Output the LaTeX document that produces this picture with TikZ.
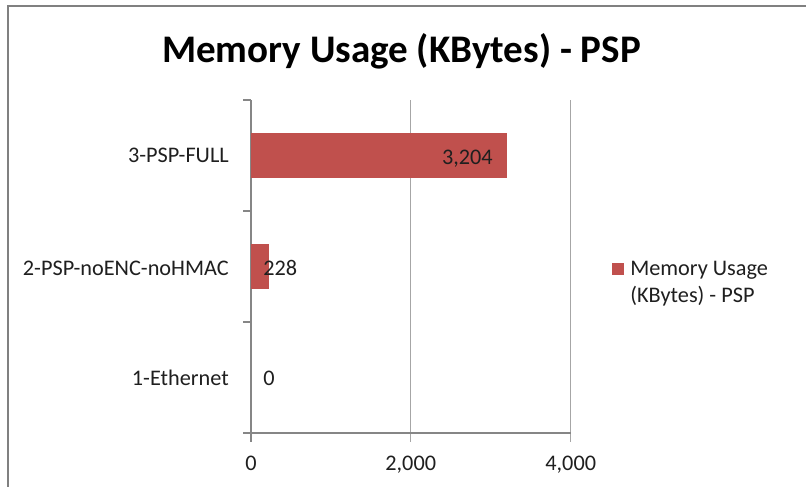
\documentclass[tikz,border=0pt]{standalone}
\usepackage{fontspec}
\setmainfont{Carlito}
\definecolor{barred}{HTML}{C0504D}
\definecolor{gridgray}{HTML}{A6A6A6}
\definecolor{axisgray}{HTML}{868686}
\definecolor{framegray}{HTML}{808080}
\definecolor{txt}{HTML}{1F1F1F}
\begin{document}
\begin{tikzpicture}[x=0.75pt,y=-0.75pt,
  lbl/.style={inner sep=0pt,text=txt,font=\fontsize{16.7}{20}\selectfont},
  gridline/.style={draw=gridgray,line width=1.1pt},
  axisline/.style={draw=axisgray,line width=1pt},
  bar/.style={fill=barred,draw=none}]
\useasboundingbox (0,0) rectangle (806,486);
\fill[white] (0,0) rectangle (806,486);
% chart frame (only top and left edges fall inside the picture)
\draw[framegray,line width=1.5pt] (8,490) -- (8,5.5) -- (810,5.5);
% title
\node[inner sep=0pt,anchor=base,font=\fontsize{29.3}{34}\selectfont\bfseries] (title) at (401.5,62) {Memory Usage (KBytes) - PSP};
% vertical gridlines with their ticks
\draw[gridline] (410.7,100) -- (410.7,442);
\draw[gridline] (570.7,100) -- (570.7,442);
% axes
\draw[axisline] (251,100) -- (251,442);
\draw[axisline] (243,433) -- (571,433);
\foreach \yy in {100,211,322} \draw[axisline] (243,\yy) -- (251,\yy);
% bars
\fill[bar] (251,132.7) rectangle (507.3,178);
\fill[bar] (251,244.3) rectangle (269.2,288.7);
% category labels
\node[lbl,anchor=base east] (c3) at (229,162) {3-PSP-FULL};
\node[lbl,anchor=base east] (c2) at (229,275) {2-PSP-noENC-noHMAC};
\node[lbl,anchor=base east] (c1) at (229,385) {1-Ethernet};
% data labels
\node[lbl,anchor=base east] (v3) at (493,164) {3,204};
\node[lbl,anchor=base west] (v2) at (263,275) {228};
\node[lbl,anchor=base west] (v1) at (263,385) {0};
% value axis labels
\node[lbl,anchor=base] (t0) at (251,470) {0};
\node[lbl,anchor=base] (t1) at (410.7,470) {2,000};
\node[lbl,anchor=base] (t2) at (570.7,470) {4,000};
% legend
\fill[bar] (611.7,263) rectangle (624,274.5);
\node[lbl,anchor=base west] (leg1) at (630,275) {Memory Usage};
\node[lbl,anchor=base west] (leg2) at (630,302) {(KBytes) - PSP};
\end{tikzpicture}
\end{document}
